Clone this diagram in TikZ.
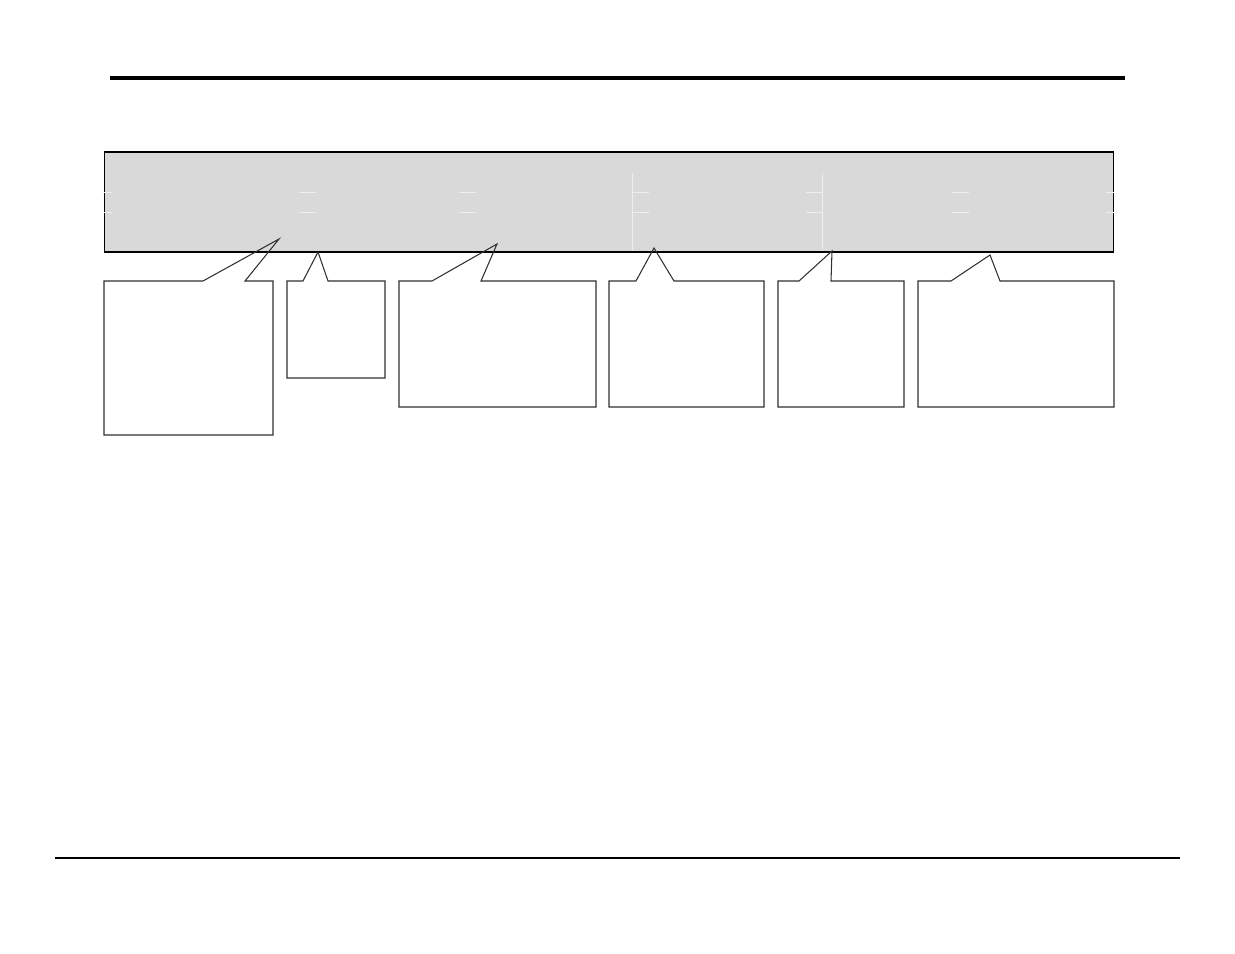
\documentclass[tikz,border=0pt]{standalone}
\usetikzlibrary{positioning}
\definecolor{barfill}{HTML}{D9D9D9}
\definecolor{boxline}{HTML}{303030}
\definecolor{cellline}{HTML}{EEEEEE}
\tikzset{
  callout/.style={draw=boxline, line width=0.6pt, line join=miter},
  cellrule/.style={draw=cellline, line width=0.4pt},
}
\begin{document}
\begin{tikzpicture}[x=0.02cm,y=-0.02cm]
\useasboundingbox (0,0) rectangle (1235,954);
% page rules
\coordinate (topL) at (110,78);
\coordinate (topR) at (1125,78);
\coordinate (botL) at (55,858);
\coordinate (botR) at (1180,858);
\draw[line width=2.3pt] (topL) -- (topR);
\draw[line width=0.8pt] (botL) -- (botR);
% grey bar
\node[draw, line width=0.6pt, fill=barfill, inner sep=0pt,
      minimum width=20.2cm, minimum height=2cm] (bar) at (609,202) {};
\foreach \a/\b in {103/112, 299/316, 459/476, 632/649, 806/822, 952/969, 1106/1114}
{
  \draw[cellrule] (\a,192) -- (\b,192);
  \draw[cellrule] (\a,212) -- (\b,212);
}
\foreach \x in {632, 822}
  \draw[cellrule] (\x,173) -- (\x,251);
% callouts
\foreach \l/\r/\d/\p/\tx/\ty/\q [count=\i] in
  {104/273/435/203/279/239/245,
   287/385/378/303/318/252/328,
   399/596/407/432/497/244/481,
   609/764/407/636/654/248/674,
   778/904/407/799/832/251/831,
   918/1114/407/951/990/255/1000}
  \draw[callout] (\l,281) -- (\p,281) -- (\tx,\ty) coordinate (tip\i)
    -- (\q,281) -- (\r,281) -- (\r,\d) -- (\l,\d) -- cycle;
\end{tikzpicture}
\end{document}
